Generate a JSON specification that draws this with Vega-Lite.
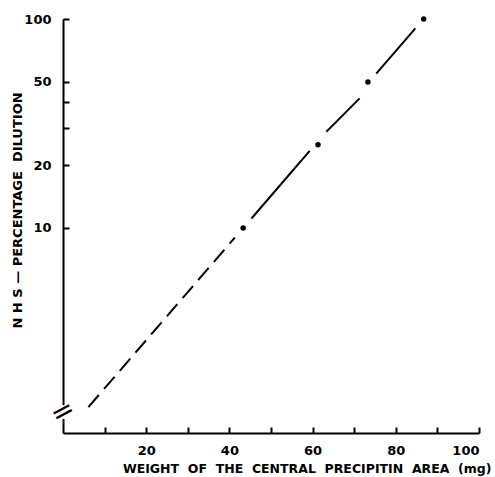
{
  "$schema": "https://vega.github.io/schema/vega-lite/v6.json",
  "width": 416,
  "height": 414,
  "autosize": "none",
  "padding": {"left": 63, "top": 19, "right": 16, "bottom": 44},
  "background": "white",
  "config": {
    "view": {"stroke": null},
    "axis": {
      "domainColor": "black", "domainWidth": 2, "tickColor": "black", "tickWidth": 2,
      "labelFont": "DejaVu Sans", "labelFontWeight": "bold", "labelFontSize": 13, "labelColor": "black",
      "titleFont": "DejaVu Sans", "titleFontWeight": "bold", "titleFontSize": 13, "titleColor": "black",
      "grid": false
    }
  },
  "layer": [
    {
      "data": {"values": [{"x": 6.1, "y": 1.39}, {"x": 41.3, "y": 8.99}]},
      "mark": {"type": "line", "color": "black", "strokeWidth": 2, "strokeDash": [16, 8]},
      "encoding": {
        "x": {"field": "x", "type": "quantitative", "scale": {"domain": [0, 100], "nice": false},
          "axis": {"values": [10, 20, 30, 40, 50, 60, 70, 80, 90, 100], "tickSize": -6, "labelPadding": 17,
            "labelExpr": "datum.value % 20 == 0 ? datum.label : ''",
            "title": "WEIGHT\u00a0 OF\u00a0 THE\u00a0 CENTRAL\u00a0 PRECIPITIN\u00a0 AREA\u00a0 (mg)", "titleFontSize": 12.5, "titleAnchor": "end", "titleX": 428, "titleY": 39, "titleBaseline": "alphabetic"}},
        "y": {"field": "y", "type": "quantitative", "scale": {"type": "log", "domain": [1.045, 100], "nice": false},
          "axis": {"values": [10, 20, 30, 40, 50, 100], "tickSize": -6, "labelPadding": 18,
            "labelExpr": "datum.value == 30 || datum.value == 40 ? '' : datum.label",
            "title": "N H S — PERCENTAGE\u00a0 DILUTION", "titleX": -42, "titleY": 191, "titleBaseline": "alphabetic"}}
      }
    },
    {
      "data": {"values": [
        {"x": 45.3, "y": 11.1, "x2": 59.3, "y2": 23.4},
        {"x": 63.3, "y": 28.9, "x2": 71.3, "y2": 41.7},
        {"x": 75.3, "y": 54.8, "x2": 84.7, "y2": 90.1}
      ]},
      "mark": {"type": "rule", "color": "black", "strokeWidth": 2},
      "encoding": {
        "x": {"field": "x", "type": "quantitative"},
        "y": {"field": "y", "type": "quantitative"},
        "x2": {"field": "x2"},
        "y2": {"field": "y2"}
      }
    },
    {
      "data": {"values": [{"x": 43.3, "y": 10}, {"x": 61.3, "y": 25}, {"x": 73.3, "y": 50}, {"x": 86.7, "y": 100}]},
      "mark": {"type": "circle", "color": "black", "opacity": 1, "size": 30},
      "encoding": {"x": {"field": "x", "type": "quantitative"}, "y": {"field": "y", "type": "quantitative"}}
    },
    {
      "data": {"values": [{"x": 0, "y": 1.42, "y2": 1.22}]},
      "mark": {"type": "rule", "color": "white", "strokeWidth": 6},
      "encoding": {"x": {"field": "x", "type": "quantitative"}, "y": {"field": "y", "type": "quantitative"}, "y2": {"field": "y2"}}
    },
    {
      "data": {"values": [{"x": 0, "y": 1.31, "t": "="}]},
      "mark": {"type": "text", "color": "black", "fontSize": 28, "font": "DejaVu Sans", "angle": -28, "baseline": "middle", "align": "center"},
      "encoding": {"x": {"field": "x", "type": "quantitative"}, "y": {"field": "y", "type": "quantitative"}, "text": {"field": "t"}}
    }
  ]
}
